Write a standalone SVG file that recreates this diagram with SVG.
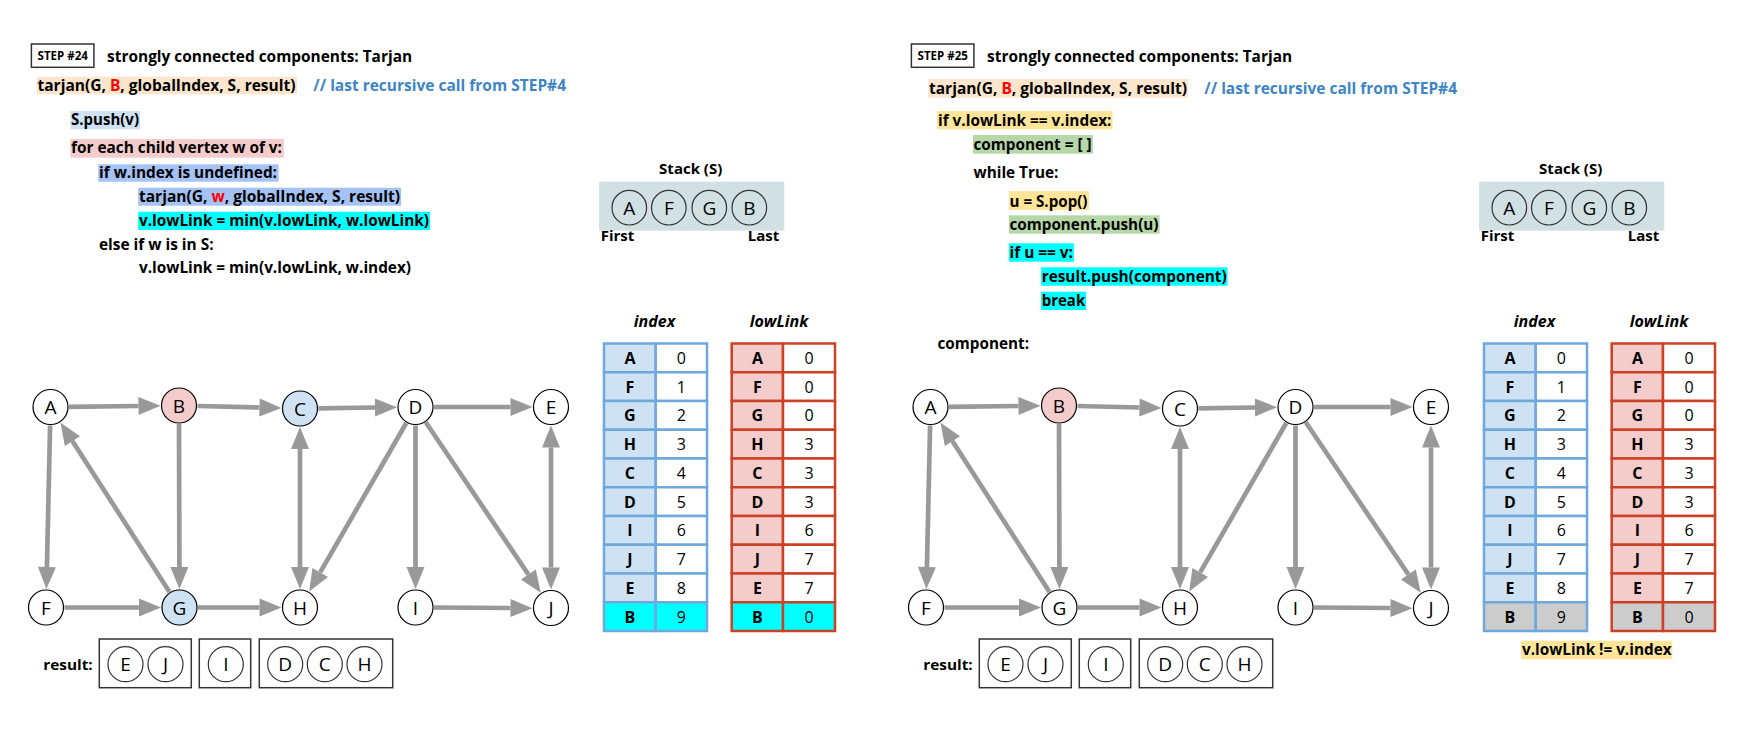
<svg xmlns="http://www.w3.org/2000/svg" width="1741" height="734" viewBox="0 0 1741 734">
<style>
text{font-family:"Open Sans","DejaVu Sans",sans-serif}
.code{font-weight:700;font-size:16px;fill:#000}
.cmt{font-weight:700;font-size:16px;fill:#3d85c6}
.red{fill:#ff0000}
.step{font-weight:700;font-size:11.5px;text-anchor:middle}
.stepbox{fill:#fff;stroke:#333;stroke-width:1.5}
.nc{fill:#fff;stroke:#000;stroke-width:1.2}
.pink{fill:#f4cccc}
.blue{fill:#cfe2f3}
.nl{font-size:19px;text-anchor:middle;fill:#000}
.edge{stroke:#999;stroke-width:4.7;fill:none}
.arr{marker-end:url(#ah)}
.bi{marker-end:url(#ah);marker-start:url(#ah)}
.sc{fill:none;stroke:#333;stroke-width:1.2}
.bold{font-weight:700;font-size:15px;fill:#000}
.hdr{font-weight:700;font-style:italic;font-size:16px;text-anchor:middle}
.tl{font-weight:700;font-size:16px;text-anchor:middle}
.tv{font-size:16px;text-anchor:middle}
.ic{stroke:#6fa8dc;stroke-width:2.5}
.lc{stroke:#cc4125;stroke-width:2.5}
.rbox{fill:none;stroke:#333;stroke-width:1.5}
</style>
<defs>
<marker id="ah" markerUnits="userSpaceOnUse" markerWidth="24" markerHeight="18" refX="0" refY="9" orient="auto-start-reverse" overflow="visible">
<path d="M0,0 L22,9 L0,18 z" fill="#999"/>
</marker>
</defs>
<rect width="1741" height="734" fill="#fff"/>

<!-- ===== LEFT PANEL: STEP 24 ===== -->
<g id="left-code">
<rect class="stepbox" x="31.4" y="44" width="62.5" height="23.3"/>
<text class="step" x="62.7" y="60">STEP #24</text>
<text class="code" x="107.1" y="61.7" textLength="305" lengthAdjust="spacingAndGlyphs">strongly connected components: Tarjan</text>
<rect x="36.8" y="76.7" width="260.3" height="17.6" fill="#fce5cd"/>
<text class="code" x="37.5" y="91" textLength="258" lengthAdjust="spacingAndGlyphs">tarjan(G, <tspan class="red">B</tspan>, globalIndex, S, result)</text>
<text class="cmt" x="313.3" y="91" textLength="252.7" lengthAdjust="spacingAndGlyphs">// last recursive call from STEP#4</text>
<rect x="70.4" y="111" width="69.6" height="18.3" fill="#cfe2f3"/>
<text class="code" x="71" y="125" textLength="68" lengthAdjust="spacingAndGlyphs">S.push(v)</text>
<rect x="70.4" y="139" width="213.5" height="18.7" fill="#f4cccc"/>
<text class="code" x="71" y="153.3" textLength="211" lengthAdjust="spacingAndGlyphs">for each child vertex w of v:</text>
<rect x="98.2" y="164.3" width="180.4" height="17.4" fill="#a4c2f4"/>
<text class="code" x="99" y="177.7" textLength="178" lengthAdjust="spacingAndGlyphs">if w.index is undefined:</text>
<rect x="138.2" y="187.7" width="262.9" height="18" fill="#a4c2f4"/>
<text class="code" x="139" y="202" textLength="261" lengthAdjust="spacingAndGlyphs">tarjan(G, <tspan class="red">w</tspan>, globalIndex, S, result)</text>
<rect x="138.2" y="211.7" width="291.8" height="18.3" fill="#00ffff"/>
<text class="code" x="139" y="226" textLength="290" lengthAdjust="spacingAndGlyphs">v.lowLink = min(v.lowLink, w.lowLink)</text>
<text class="code" x="99" y="250" textLength="114.6" lengthAdjust="spacingAndGlyphs">else if w is in S:</text>
<text class="code" x="139" y="273.3" textLength="272" lengthAdjust="spacingAndGlyphs">v.lowLink = min(v.lowLink, w.index)</text>
</g>

<g id="left-stack">
<text class="bold" x="690.7" y="174.3" text-anchor="middle">Stack (S)</text>
<rect x="599" y="181.7" width="185.3" height="49" fill="#d0e0e3"/>
<circle class="sc" cx="629.3" cy="207.7" r="17.3"/><text class="nl" x="629.3" y="214.5">A</text>
<circle class="sc" cx="668.8" cy="207.7" r="17.3"/><text class="nl" x="668.8" y="214.5">F</text>
<circle class="sc" cx="709.3" cy="207.7" r="17.3"/><text class="nl" x="709.3" y="214.5">G</text>
<circle class="sc" cx="749.3" cy="207.7" r="17.3"/><text class="nl" x="749.3" y="214.5">B</text>
<text class="bold" x="600.7" y="240.7">First</text>
<text class="bold" x="779.3" y="240.7" text-anchor="end">Last</text>
</g>

<g id="left-index-table">
<text class="hdr" x="654.5" y="326.7">index</text>
<g class="ic">
<rect x="604" y="343.5" width="51.7" height="28.75" fill="#cfe2f3"/><rect x="655.7" y="343.5" width="51.3" height="28.75" fill="#fff"/>
<rect x="604" y="372.25" width="51.7" height="28.75" fill="#cfe2f3"/><rect x="655.7" y="372.25" width="51.3" height="28.75" fill="#fff"/>
<rect x="604" y="401" width="51.7" height="28.75" fill="#cfe2f3"/><rect x="655.7" y="401" width="51.3" height="28.75" fill="#fff"/>
<rect x="604" y="429.75" width="51.7" height="28.75" fill="#cfe2f3"/><rect x="655.7" y="429.75" width="51.3" height="28.75" fill="#fff"/>
<rect x="604" y="458.5" width="51.7" height="28.75" fill="#cfe2f3"/><rect x="655.7" y="458.5" width="51.3" height="28.75" fill="#fff"/>
<rect x="604" y="487.25" width="51.7" height="28.75" fill="#cfe2f3"/><rect x="655.7" y="487.25" width="51.3" height="28.75" fill="#fff"/>
<rect x="604" y="516" width="51.7" height="28.75" fill="#cfe2f3"/><rect x="655.7" y="516" width="51.3" height="28.75" fill="#fff"/>
<rect x="604" y="544.75" width="51.7" height="28.75" fill="#cfe2f3"/><rect x="655.7" y="544.75" width="51.3" height="28.75" fill="#fff"/>
<rect x="604" y="573.5" width="51.7" height="28.75" fill="#cfe2f3"/><rect x="655.7" y="573.5" width="51.3" height="28.75" fill="#fff"/>
<rect x="604" y="602.25" width="51.7" height="28.75" fill="#00ffff"/><rect x="655.7" y="602.25" width="51.3" height="28.75" fill="#00ffff"/>
</g>
<text class="tl" x="629.9" y="363.8">A</text><text class="tv" x="681.4" y="363.9">0</text>
<text class="tl" x="629.9" y="392.5">F</text><text class="tv" x="681.4" y="392.6">1</text>
<text class="tl" x="629.9" y="421.3">G</text><text class="tv" x="681.4" y="421.4">2</text>
<text class="tl" x="629.9" y="450">H</text><text class="tv" x="681.4" y="450.1">3</text>
<text class="tl" x="629.9" y="478.8">C</text><text class="tv" x="681.4" y="478.9">4</text>
<text class="tl" x="629.9" y="507.5">D</text><text class="tv" x="681.4" y="507.6">5</text>
<text class="tl" x="629.9" y="536.3">I</text><text class="tv" x="681.4" y="536.4">6</text>
<text class="tl" x="629.9" y="565">J</text><text class="tv" x="681.4" y="565.1">7</text>
<text class="tl" x="629.9" y="593.8">E</text><text class="tv" x="681.4" y="593.9">8</text>
<text class="tl" x="629.9" y="622.5">B</text><text class="tv" x="681.4" y="622.6">9</text>
</g>

<g id="left-lowlink-table">
<text class="hdr" x="779" y="326.7">lowLink</text>
<g class="lc">
<rect x="731.7" y="343.5" width="51.3" height="28.75" fill="#f4cccc"/><rect x="783" y="343.5" width="52" height="28.75" fill="#fff"/>
<rect x="731.7" y="372.25" width="51.3" height="28.75" fill="#f4cccc"/><rect x="783" y="372.25" width="52" height="28.75" fill="#fff"/>
<rect x="731.7" y="401" width="51.3" height="28.75" fill="#f4cccc"/><rect x="783" y="401" width="52" height="28.75" fill="#fff"/>
<rect x="731.7" y="429.75" width="51.3" height="28.75" fill="#f4cccc"/><rect x="783" y="429.75" width="52" height="28.75" fill="#fff"/>
<rect x="731.7" y="458.5" width="51.3" height="28.75" fill="#f4cccc"/><rect x="783" y="458.5" width="52" height="28.75" fill="#fff"/>
<rect x="731.7" y="487.25" width="51.3" height="28.75" fill="#f4cccc"/><rect x="783" y="487.25" width="52" height="28.75" fill="#fff"/>
<rect x="731.7" y="516" width="51.3" height="28.75" fill="#f4cccc"/><rect x="783" y="516" width="52" height="28.75" fill="#fff"/>
<rect x="731.7" y="544.75" width="51.3" height="28.75" fill="#f4cccc"/><rect x="783" y="544.75" width="52" height="28.75" fill="#fff"/>
<rect x="731.7" y="573.5" width="51.3" height="28.75" fill="#f4cccc"/><rect x="783" y="573.5" width="52" height="28.75" fill="#fff"/>
<rect x="731.7" y="602.25" width="51.3" height="28.75" fill="#00ffff"/><rect x="783" y="602.25" width="52" height="28.75" fill="#00ffff"/>
</g>
<text class="tl" x="757.4" y="363.8">A</text><text class="tv" x="809" y="363.9">0</text>
<text class="tl" x="757.4" y="392.5">F</text><text class="tv" x="809" y="392.6">0</text>
<text class="tl" x="757.4" y="421.3">G</text><text class="tv" x="809" y="421.4">0</text>
<text class="tl" x="757.4" y="450">H</text><text class="tv" x="809" y="450.1">3</text>
<text class="tl" x="757.4" y="478.8">C</text><text class="tv" x="809" y="478.9">3</text>
<text class="tl" x="757.4" y="507.5">D</text><text class="tv" x="809" y="507.6">3</text>
<text class="tl" x="757.4" y="536.3">I</text><text class="tv" x="809" y="536.4">6</text>
<text class="tl" x="757.4" y="565">J</text><text class="tv" x="809" y="565.1">7</text>
<text class="tl" x="757.4" y="593.8">E</text><text class="tv" x="809" y="593.9">7</text>
<text class="tl" x="757.4" y="622.5">B</text><text class="tv" x="809" y="622.6">0</text>
</g>

<g id="left-edges">
<line class="edge arr" x1="69" y1="406.8" x2="138.5" y2="406"/>
<line class="edge arr" x1="197.5" y1="406" x2="259.5" y2="407.5"/>
<line class="edge arr" x1="318.5" y1="408.3" x2="375" y2="407.5"/>
<line class="edge arr" x1="434" y1="407" x2="510.5" y2="407"/>
<line class="edge arr" x1="50.1" y1="425.5" x2="46.9" y2="567"/>
<line class="edge arr" x1="64.5" y1="607.5" x2="139" y2="607.5"/>
<line class="edge arr" x1="169.5" y1="591.9" x2="72.4" y2="441.1"/>
<line class="edge arr" x1="179" y1="424" x2="179.4" y2="567"/>
<line class="edge arr" x1="198" y1="607.5" x2="259.5" y2="607.5"/>
<line class="edge bi" x1="300" y1="449" x2="300" y2="567"/>
<line class="edge arr" x1="406.3" y1="423" x2="320.2" y2="572.4"/>
<line class="edge arr" x1="415.5" y1="425.5" x2="415.5" y2="567"/>
<line class="edge arr" x1="425.8" y1="422.3" x2="528.4" y2="574.5"/>
<line class="edge arr" x1="434" y1="607.5" x2="510.5" y2="608"/>
<line class="edge bi" x1="551" y1="447.5" x2="551" y2="567.5"/>
</g>

<g id="left-node-A"><circle class="nc" cx="50.5" cy="407" r="17.5"/><text class="nl" x="50.5" y="414">A</text></g>
<g id="left-node-B"><circle class="nc pink" cx="179" cy="405.5" r="17.5"/><text class="nl" x="179" y="412.5">B</text></g>
<g id="left-node-C"><circle class="nc blue" cx="300" cy="408.5" r="17.5"/><text class="nl" x="300" y="415.5">C</text></g>
<g id="left-node-D"><circle class="nc" cx="415.5" cy="407" r="17.5"/><text class="nl" x="415.5" y="414">D</text></g>
<g id="left-node-E"><circle class="nc" cx="551" cy="407" r="17.5"/><text class="nl" x="551" y="414">E</text></g>
<g id="left-node-F"><circle class="nc" cx="46" cy="607.5" r="17.5"/><text class="nl" x="46" y="614.5">F</text></g>
<g id="left-node-G"><circle class="nc blue" cx="179.5" cy="607.5" r="17.5"/><text class="nl" x="179.5" y="614.5">G</text></g>
<g id="left-node-H"><circle class="nc" cx="300" cy="607.5" r="17.5"/><text class="nl" x="300" y="614.5">H</text></g>
<g id="left-node-I"><circle class="nc" cx="415.5" cy="607.5" r="17.5"/><text class="nl" x="415.5" y="614.5">I</text></g>
<g id="left-node-J"><circle class="nc" cx="551" cy="608" r="17.5"/><text class="nl" x="551" y="615">J</text></g>

<g id="left-result">
<text class="bold" x="43.3" y="670" textLength="49.4" lengthAdjust="spacingAndGlyphs">result:</text>
<rect class="rbox" x="99.3" y="639" width="92" height="48.7"/>
<rect class="rbox" x="199.3" y="639" width="51.4" height="48.7"/>
<rect class="rbox" x="259.3" y="639" width="133.4" height="48.7"/>
<circle class="sc" cx="125.5" cy="664.2" r="17.5"/><text class="nl" x="125.5" y="671">E</text>
<circle class="sc" cx="165.5" cy="664.2" r="17.5"/><text class="nl" x="165.5" y="671">J</text>
<circle class="sc" cx="225.8" cy="664.2" r="17.5"/><text class="nl" x="225.8" y="671">I</text>
<circle class="sc" cx="285.2" cy="664.2" r="17.5"/><text class="nl" x="285.2" y="671">D</text>
<circle class="sc" cx="324.8" cy="664.2" r="17.5"/><text class="nl" x="324.8" y="671">C</text>
<circle class="sc" cx="364.5" cy="664.2" r="17.5"/><text class="nl" x="364.5" y="671">H</text>
</g>

<!-- ===== RIGHT PANEL: STEP 25 ===== -->
<g id="right-code">
<rect class="stepbox" x="911.4" y="44" width="62.5" height="23.3"/>
<text class="step" x="942.7" y="60">STEP #25</text>
<text class="code" x="987.1" y="61.7" textLength="305" lengthAdjust="spacingAndGlyphs">strongly connected components: Tarjan</text>
<rect x="928.2" y="79" width="259.7" height="18.7" fill="#fce5cd"/>
<text class="code" x="929" y="94" textLength="258" lengthAdjust="spacingAndGlyphs">tarjan(G, <tspan class="red">B</tspan>, globalIndex, S, result)</text>
<text class="cmt" x="1204.3" y="94" textLength="252.7" lengthAdjust="spacingAndGlyphs">// last recursive call from STEP#4</text>
<rect x="937.1" y="111" width="175.4" height="18.3" fill="#ffe599"/>
<text class="code" x="938" y="125.7" textLength="173.5" lengthAdjust="spacingAndGlyphs">if v.lowLink == v.index:</text>
<rect x="972.9" y="135" width="120" height="18.7" fill="#b6d7a8"/>
<text class="code" x="973.5" y="150" textLength="118" lengthAdjust="spacingAndGlyphs">component = [ ]</text>
<text class="code" x="973.5" y="177.7" textLength="85" lengthAdjust="spacingAndGlyphs">while True:</text>
<rect x="1008.9" y="191" width="80" height="19" fill="#ffe599"/>
<text class="code" x="1009.5" y="206.7" textLength="78" lengthAdjust="spacingAndGlyphs">u = S.pop()</text>
<rect x="1008.9" y="215.3" width="150.7" height="18.4" fill="#b6d7a8"/>
<text class="code" x="1009.5" y="230" textLength="149" lengthAdjust="spacingAndGlyphs">component.push(u)</text>
<rect x="1008.9" y="243.3" width="65" height="18.4" fill="#00ffff"/>
<text class="code" x="1009.5" y="258.3" textLength="63.5" lengthAdjust="spacingAndGlyphs">if u == v:</text>
<rect x="1041.1" y="267.3" width="186.4" height="18.4" fill="#00ffff"/>
<text class="code" x="1041.7" y="282.3" textLength="185" lengthAdjust="spacingAndGlyphs">result.push(component)</text>
<rect x="1041.1" y="291.7" width="45" height="18.3" fill="#00ffff"/>
<text class="code" x="1041.7" y="306" textLength="43.5" lengthAdjust="spacingAndGlyphs">break</text>
<text class="code" x="937.5" y="349.3" textLength="91.5" lengthAdjust="spacingAndGlyphs">component:</text>
</g>

<g id="right-stack" transform="translate(880,0)">
<text class="bold" x="690.7" y="174.3" text-anchor="middle">Stack (S)</text>
<rect x="599" y="181.7" width="185.3" height="49" fill="#d0e0e3"/>
<circle class="sc" cx="629.3" cy="207.7" r="17.3"/><text class="nl" x="629.3" y="214.5">A</text>
<circle class="sc" cx="668.8" cy="207.7" r="17.3"/><text class="nl" x="668.8" y="214.5">F</text>
<circle class="sc" cx="709.3" cy="207.7" r="17.3"/><text class="nl" x="709.3" y="214.5">G</text>
<circle class="sc" cx="749.3" cy="207.7" r="17.3"/><text class="nl" x="749.3" y="214.5">B</text>
<text class="bold" x="600.7" y="240.7">First</text>
<text class="bold" x="779.3" y="240.7" text-anchor="end">Last</text>
</g>

<g id="right-index-table" transform="translate(880,0)">
<text class="hdr" x="654.5" y="326.7">index</text>
<g class="ic">
<rect x="604" y="343.5" width="51.7" height="28.75" fill="#cfe2f3"/><rect x="655.7" y="343.5" width="51.3" height="28.75" fill="#fff"/>
<rect x="604" y="372.25" width="51.7" height="28.75" fill="#cfe2f3"/><rect x="655.7" y="372.25" width="51.3" height="28.75" fill="#fff"/>
<rect x="604" y="401" width="51.7" height="28.75" fill="#cfe2f3"/><rect x="655.7" y="401" width="51.3" height="28.75" fill="#fff"/>
<rect x="604" y="429.75" width="51.7" height="28.75" fill="#cfe2f3"/><rect x="655.7" y="429.75" width="51.3" height="28.75" fill="#fff"/>
<rect x="604" y="458.5" width="51.7" height="28.75" fill="#cfe2f3"/><rect x="655.7" y="458.5" width="51.3" height="28.75" fill="#fff"/>
<rect x="604" y="487.25" width="51.7" height="28.75" fill="#cfe2f3"/><rect x="655.7" y="487.25" width="51.3" height="28.75" fill="#fff"/>
<rect x="604" y="516" width="51.7" height="28.75" fill="#cfe2f3"/><rect x="655.7" y="516" width="51.3" height="28.75" fill="#fff"/>
<rect x="604" y="544.75" width="51.7" height="28.75" fill="#cfe2f3"/><rect x="655.7" y="544.75" width="51.3" height="28.75" fill="#fff"/>
<rect x="604" y="573.5" width="51.7" height="28.75" fill="#cfe2f3"/><rect x="655.7" y="573.5" width="51.3" height="28.75" fill="#fff"/>
<rect x="604" y="602.25" width="51.7" height="28.75" fill="#cccccc"/><rect x="655.7" y="602.25" width="51.3" height="28.75" fill="#cccccc"/>
</g>
<text class="tl" x="629.9" y="363.8">A</text><text class="tv" x="681.4" y="363.9">0</text>
<text class="tl" x="629.9" y="392.5">F</text><text class="tv" x="681.4" y="392.6">1</text>
<text class="tl" x="629.9" y="421.3">G</text><text class="tv" x="681.4" y="421.4">2</text>
<text class="tl" x="629.9" y="450">H</text><text class="tv" x="681.4" y="450.1">3</text>
<text class="tl" x="629.9" y="478.8">C</text><text class="tv" x="681.4" y="478.9">4</text>
<text class="tl" x="629.9" y="507.5">D</text><text class="tv" x="681.4" y="507.6">5</text>
<text class="tl" x="629.9" y="536.3">I</text><text class="tv" x="681.4" y="536.4">6</text>
<text class="tl" x="629.9" y="565">J</text><text class="tv" x="681.4" y="565.1">7</text>
<text class="tl" x="629.9" y="593.8">E</text><text class="tv" x="681.4" y="593.9">8</text>
<text class="tl" x="629.9" y="622.5">B</text><text class="tv" x="681.4" y="622.6">9</text>
</g>

<g id="right-lowlink-table" transform="translate(880,0)">
<text class="hdr" x="779" y="326.7">lowLink</text>
<g class="lc">
<rect x="731.7" y="343.5" width="51.3" height="28.75" fill="#f4cccc"/><rect x="783" y="343.5" width="52" height="28.75" fill="#fff"/>
<rect x="731.7" y="372.25" width="51.3" height="28.75" fill="#f4cccc"/><rect x="783" y="372.25" width="52" height="28.75" fill="#fff"/>
<rect x="731.7" y="401" width="51.3" height="28.75" fill="#f4cccc"/><rect x="783" y="401" width="52" height="28.75" fill="#fff"/>
<rect x="731.7" y="429.75" width="51.3" height="28.75" fill="#f4cccc"/><rect x="783" y="429.75" width="52" height="28.75" fill="#fff"/>
<rect x="731.7" y="458.5" width="51.3" height="28.75" fill="#f4cccc"/><rect x="783" y="458.5" width="52" height="28.75" fill="#fff"/>
<rect x="731.7" y="487.25" width="51.3" height="28.75" fill="#f4cccc"/><rect x="783" y="487.25" width="52" height="28.75" fill="#fff"/>
<rect x="731.7" y="516" width="51.3" height="28.75" fill="#f4cccc"/><rect x="783" y="516" width="52" height="28.75" fill="#fff"/>
<rect x="731.7" y="544.75" width="51.3" height="28.75" fill="#f4cccc"/><rect x="783" y="544.75" width="52" height="28.75" fill="#fff"/>
<rect x="731.7" y="573.5" width="51.3" height="28.75" fill="#f4cccc"/><rect x="783" y="573.5" width="52" height="28.75" fill="#fff"/>
<rect x="731.7" y="602.25" width="51.3" height="28.75" fill="#cccccc"/><rect x="783" y="602.25" width="52" height="28.75" fill="#cccccc"/>
</g>
<text class="tl" x="757.4" y="363.8">A</text><text class="tv" x="809" y="363.9">0</text>
<text class="tl" x="757.4" y="392.5">F</text><text class="tv" x="809" y="392.6">0</text>
<text class="tl" x="757.4" y="421.3">G</text><text class="tv" x="809" y="421.4">0</text>
<text class="tl" x="757.4" y="450">H</text><text class="tv" x="809" y="450.1">3</text>
<text class="tl" x="757.4" y="478.8">C</text><text class="tv" x="809" y="478.9">3</text>
<text class="tl" x="757.4" y="507.5">D</text><text class="tv" x="809" y="507.6">3</text>
<text class="tl" x="757.4" y="536.3">I</text><text class="tv" x="809" y="536.4">6</text>
<text class="tl" x="757.4" y="565">J</text><text class="tv" x="809" y="565.1">7</text>
<text class="tl" x="757.4" y="593.8">E</text><text class="tv" x="809" y="593.9">7</text>
<text class="tl" x="757.4" y="622.5">B</text><text class="tv" x="809" y="622.6">0</text>
</g>

<g id="right-condition">
<rect x="1521" y="640.7" width="151.3" height="18.6" fill="#ffe599"/>
<text class="code" x="1522" y="655" textLength="149.5" lengthAdjust="spacingAndGlyphs">v.lowLink != v.index</text>
</g>

<g id="right-edges" transform="translate(880,0)">
<line class="edge arr" x1="69" y1="406.8" x2="138.5" y2="406"/>
<line class="edge arr" x1="197.5" y1="406" x2="259.5" y2="407.5"/>
<line class="edge arr" x1="318.5" y1="408.3" x2="375" y2="407.5"/>
<line class="edge arr" x1="434" y1="407" x2="510.5" y2="407"/>
<line class="edge arr" x1="50.1" y1="425.5" x2="46.9" y2="567"/>
<line class="edge arr" x1="64.5" y1="607.5" x2="139" y2="607.5"/>
<line class="edge arr" x1="169.5" y1="591.9" x2="72.4" y2="441.1"/>
<line class="edge arr" x1="179" y1="424" x2="179.4" y2="567"/>
<line class="edge arr" x1="198" y1="607.5" x2="259.5" y2="607.5"/>
<line class="edge bi" x1="300" y1="449" x2="300" y2="567"/>
<line class="edge arr" x1="406.3" y1="423" x2="320.2" y2="572.4"/>
<line class="edge arr" x1="415.5" y1="425.5" x2="415.5" y2="567"/>
<line class="edge arr" x1="425.8" y1="422.3" x2="528.4" y2="574.5"/>
<line class="edge arr" x1="434" y1="607.5" x2="510.5" y2="608"/>
<line class="edge bi" x1="551" y1="447.5" x2="551" y2="567.5"/>
</g>

<g transform="translate(880,0)">
<g id="right-node-A"><circle class="nc" cx="50.5" cy="407" r="17.5"/><text class="nl" x="50.5" y="414">A</text></g>
<g id="right-node-B"><circle class="nc pink" cx="179" cy="405.5" r="17.5"/><text class="nl" x="179" y="412.5">B</text></g>
<g id="right-node-C"><circle class="nc" cx="300" cy="408.5" r="17.5"/><text class="nl" x="300" y="415.5">C</text></g>
<g id="right-node-D"><circle class="nc" cx="415.5" cy="407" r="17.5"/><text class="nl" x="415.5" y="414">D</text></g>
<g id="right-node-E"><circle class="nc" cx="551" cy="407" r="17.5"/><text class="nl" x="551" y="414">E</text></g>
<g id="right-node-F"><circle class="nc" cx="46" cy="607.5" r="17.5"/><text class="nl" x="46" y="614.5">F</text></g>
<g id="right-node-G"><circle class="nc" cx="179.5" cy="607.5" r="17.5"/><text class="nl" x="179.5" y="614.5">G</text></g>
<g id="right-node-H"><circle class="nc" cx="300" cy="607.5" r="17.5"/><text class="nl" x="300" y="614.5">H</text></g>
<g id="right-node-I"><circle class="nc" cx="415.5" cy="607.5" r="17.5"/><text class="nl" x="415.5" y="614.5">I</text></g>
<g id="right-node-J"><circle class="nc" cx="551" cy="608" r="17.5"/><text class="nl" x="551" y="615">J</text></g>
</g>

<g id="right-result" transform="translate(880,0)">
<text class="bold" x="43.3" y="670" textLength="49.4" lengthAdjust="spacingAndGlyphs">result:</text>
<rect class="rbox" x="99.3" y="639" width="92" height="48.7"/>
<rect class="rbox" x="199.3" y="639" width="51.4" height="48.7"/>
<rect class="rbox" x="259.3" y="639" width="133.4" height="48.7"/>
<circle class="sc" cx="125.5" cy="664.2" r="17.5"/><text class="nl" x="125.5" y="671">E</text>
<circle class="sc" cx="165.5" cy="664.2" r="17.5"/><text class="nl" x="165.5" y="671">J</text>
<circle class="sc" cx="225.8" cy="664.2" r="17.5"/><text class="nl" x="225.8" y="671">I</text>
<circle class="sc" cx="285.2" cy="664.2" r="17.5"/><text class="nl" x="285.2" y="671">D</text>
<circle class="sc" cx="324.8" cy="664.2" r="17.5"/><text class="nl" x="324.8" y="671">C</text>
<circle class="sc" cx="364.5" cy="664.2" r="17.5"/><text class="nl" x="364.5" y="671">H</text>
</g>
</svg>
